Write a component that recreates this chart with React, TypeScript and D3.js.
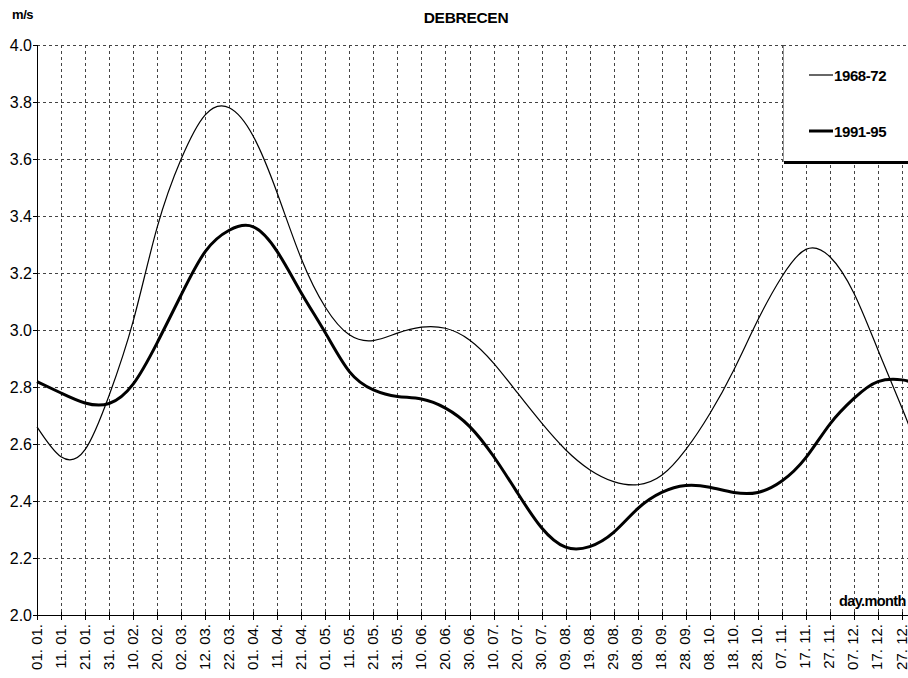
import { useEffect, useRef } from "react";
import * as d3 from "d3";

// day of year for each tick / reading (last one is 31.12, the plot edge)
const days = [
  1, 11, 21, 31, 41, 51, 61, 71, 81, 91, 101, 111, 121, 131, 141, 151, 161,
  171, 181, 191, 201, 211, 221, 231, 241, 251, 261, 271, 281, 291, 301, 311,
  321, 331, 341, 351, 361, 365,
];

const tickLabels = [
  "01. 01.", "11. 01.", "21. 01.", "31. 01.", "10. 02.", "20. 02.", "02. 03.",
  "12. 03.", "22. 03.", "01. 04.", "11. 04.", "21. 04.", "01. 05.", "11. 05.",
  "21. 05.", "31. 05.", "10. 06.", "20. 06.", "30. 06.", "10. 07.", "20. 07.",
  "30. 07.", "09. 08.", "19. 08.", "29. 08.", "08. 09.", "18. 09.", "28. 09.",
  "08. 10.", "18. 10.", "28. 10.", "07. 11.", "17. 11.", "27. 11.", "07. 12.",
  "17. 12.", "27. 12.",
];

const series6872 = [
  2.66, 2.555, 2.58, 2.77, 3.03, 3.36, 3.6, 3.755, 3.78, 3.68, 3.48, 3.25,
  3.08, 2.983, 2.963, 2.989, 3.01, 3.006, 2.965, 2.884, 2.779, 2.674, 2.58,
  2.51, 2.468, 2.457, 2.49, 2.58, 2.706, 2.86, 3.035, 3.187, 3.283, 3.257,
  3.129, 2.93, 2.726, 2.64,
];

const series9195 = [
  2.819, 2.779, 2.744, 2.742, 2.81, 2.955, 3.123, 3.275, 3.35, 3.362, 3.275,
  3.13, 2.99, 2.854, 2.79, 2.767, 2.758, 2.726, 2.662, 2.557, 2.428, 2.306,
  2.238, 2.24, 2.29, 2.373, 2.43, 2.454, 2.448, 2.43, 2.43, 2.47, 2.552, 2.67,
  2.76, 2.819, 2.825, 2.815,
];

const yTicks = [2.0, 2.2, 2.4, 2.6, 2.8, 3.0, 3.2, 3.4, 3.6, 3.8, 4.0];

const seriesNames = ["1968-72", "1991-95"];

const FONT = "'Liberation Sans', Arial, sans-serif";

export default function App() {
  const svgRef = useRef<SVGSVGElement | null>(null);

  useEffect(() => {
    const svg = d3.select(svgRef.current);
    svg.selectAll("*").remove();

    const width = 908;
    const height = 678;
    const left = 37;
    const top = 45;
    const bottom = 615;

    const x = d3.scaleLinear().domain([1, 361]).range([left, 902]);
    const y = d3.scaleLinear().domain([2, 4]).range([bottom, top]);
    const right = x(365);

    svg.append("rect").attr("width", width).attr("height", height).attr("fill", "#fff");

    // grid
    const grid = svg.append("g").attr("stroke", "#444").attr("stroke-width", 1)
      .attr("stroke-dasharray", "3 3");
    grid.selectAll("line.h")
      .data(yTicks.slice(1))
      .join("line")
      .attr("x1", left).attr("x2", right)
      .attr("y1", (d) => Math.round(y(d)) + 0.5)
      .attr("y2", (d) => Math.round(y(d)) + 0.5);
    grid.selectAll("line.v")
      .data(days.slice(1, 37))
      .join("line")
      .attr("x1", (d) => Math.round(x(d)) + 0.5)
      .attr("x2", (d) => Math.round(x(d)) + 0.5)
      .attr("y1", top).attr("y2", bottom);

    // axes
    svg.append("line")
      .attr("x1", left + 0.5).attr("x2", left + 0.5)
      .attr("y1", top).attr("y2", bottom)
      .attr("stroke", "#000");
    svg.append("line")
      .attr("x1", left).attr("x2", right)
      .attr("y1", bottom + 0.5).attr("y2", bottom + 0.5)
      .attr("stroke", "#000");

    svg.append("g")
      .selectAll("line")
      .data(yTicks)
      .join("line")
      .attr("x1", left - 4).attr("x2", left)
      .attr("y1", (d) => Math.round(y(d)) + 0.5)
      .attr("y2", (d) => Math.round(y(d)) + 0.5)
      .attr("stroke", "#000");

    svg.append("g")
      .selectAll("line")
      .data(days.slice(0, 37))
      .join("line")
      .attr("x1", (d) => Math.round(x(d)) + 0.5)
      .attr("x2", (d) => Math.round(x(d)) + 0.5)
      .attr("y1", bottom - 3).attr("y2", bottom + 5)
      .attr("stroke", "#000");

    svg.append("g")
      .selectAll("text")
      .data(yTicks)
      .join("text")
      .attr("x", 32)
      .attr("y", (d) => y(d) + 5.5)
      .attr("text-anchor", "end")
      .attr("font-family", FONT)
      .attr("font-size", 16)
      .text((d) => d.toFixed(1));

    svg.append("g")
      .selectAll("text")
      .data(tickLabels)
      .join("text")
      .attr("transform", (_, i) => `translate(${x(days[i]) + 4.5},624) rotate(-90)`)
      .attr("text-anchor", "end")
      .attr("font-family", FONT)
      .attr("font-size", 15)
      .text((d) => d);

    // lines
    const line = d3
      .line<number>()
      .x((_, i) => x(days[i]))
      .y((d) => y(d))
      .curve(d3.curveNatural);

    svg.append("path")
      .datum(series6872)
      .attr("fill", "none")
      .attr("stroke", "#000")
      .attr("stroke-width", 1.2)
      .attr("d", line);

    svg.append("path")
      .datum(series9195)
      .attr("fill", "none")
      .attr("stroke", "#000")
      .attr("stroke-width", 3)
      .attr("d", line);

    // legend
    const lg = svg.append("g");
    lg.append("rect")
      .attr("x", 783.5).attr("y", top)
      .attr("width", right - 783).attr("height", 116)
      .attr("fill", "#fff");
    lg.append("line")
      .attr("x1", 783.5).attr("x2", 783.5)
      .attr("y1", top).attr("y2", 162)
      .attr("stroke", "#999");
    lg.append("line")
      .attr("x1", 784).attr("x2", right)
      .attr("y1", 162.5).attr("y2", 162.5)
      .attr("stroke", "#000").attr("stroke-width", 3);
    svg.append("line")
      .attr("x1", 783).attr("x2", right)
      .attr("y1", top + 0.5).attr("y2", top + 0.5)
      .attr("stroke", "#444").attr("stroke-dasharray", "3 3");

    seriesNames.forEach((name, i) => {
      const ly = i === 0 ? 75 : 131;
      lg.append("line")
        .attr("x1", 809).attr("x2", 833)
        .attr("y1", ly).attr("y2", ly)
        .attr("stroke", "#000")
        .attr("stroke-width", i === 0 ? 1.2 : 3);
      lg.append("text")
        .attr("x", 834).attr("y", ly + 5.5)
        .attr("font-family", FONT)
        .attr("font-weight", "bold")
        .attr("font-size", 15)
        .attr("letter-spacing", -0.4)
        .text(name);
    });

    // titles
    svg.append("text")
      .attr("x", 466).attr("y", 23)
      .attr("text-anchor", "middle")
      .attr("font-family", FONT)
      .attr("font-weight", "bold")
      .attr("font-size", 15.5)
      .attr("letter-spacing", -0.3)
      .text("DEBRECEN");

    svg.append("text")
      .attr("x", 12).attr("y", 19)
      .attr("font-family", FONT)
      .attr("font-weight", "bold")
      .attr("font-size", 13)
      .attr("letter-spacing", -0.4)
      .text("m/s");

    svg.append("text")
      .attr("x", 839).attr("y", 606)
      .attr("font-family", FONT)
      .attr("font-weight", "bold")
      .attr("font-size", 14.5)
      .attr("letter-spacing", -0.6)
      .text("day.month");
  }, []);

  return (
    <svg
      ref={svgRef}
      width={908}
      height={678}
      style={{ position: "absolute", left: 0, top: 0 }}
    />
  );
}
